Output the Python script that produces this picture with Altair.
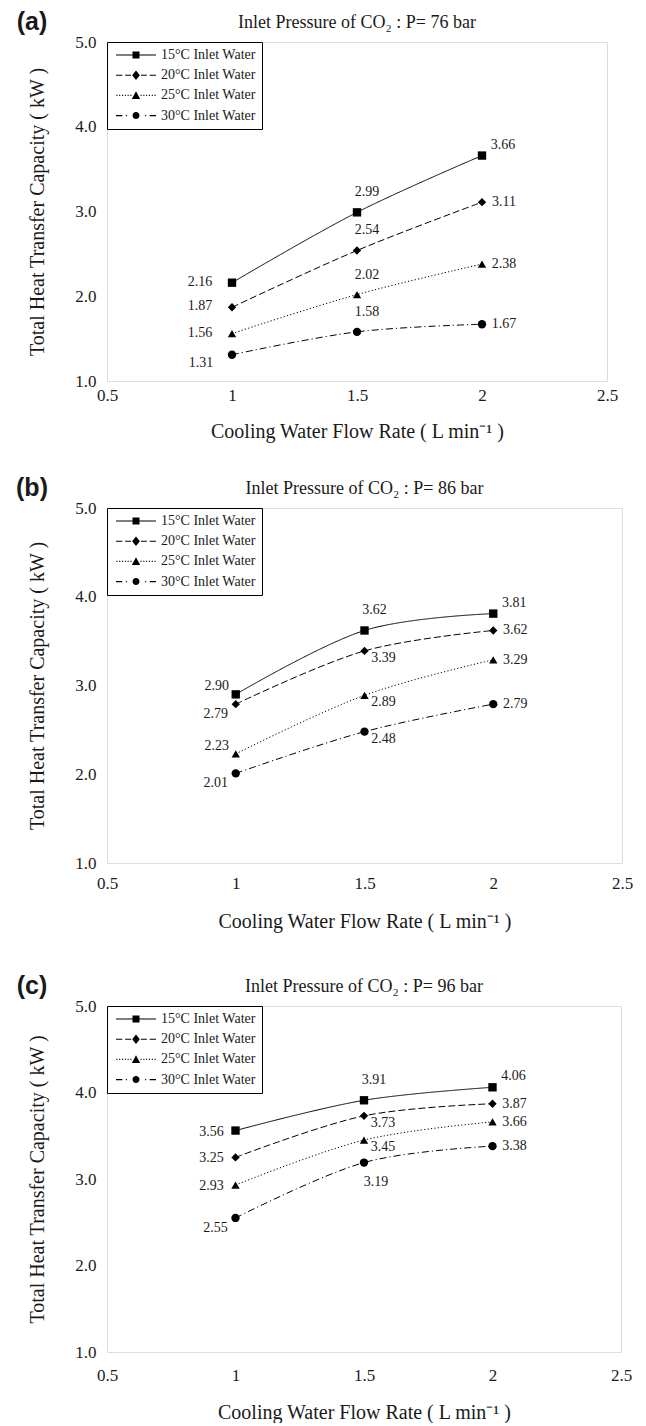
import altair as alt
import pandas as pd

# ---------------- data ----------------
flow_rate = [1.0, 1.5, 2.0]
series = ["15°C Inlet Water", "20°C Inlet Water", "25°C Inlet Water", "30°C Inlet Water"]

cap_76 = [[2.16, 2.99, 3.66], [1.87, 2.54, 3.11], [1.56, 2.02, 2.38], [1.31, 1.58, 1.67]]
cap_86 = [[2.90, 3.62, 3.81], [2.79, 3.39, 3.62], [2.23, 2.89, 3.29], [2.01, 2.48, 2.79]]
cap_96 = [[3.56, 3.91, 4.06], [3.25, 3.73, 3.87], [2.93, 3.45, 3.66], [2.55, 3.19, 3.38]]

# where each value label sits relative to its point (category codes)
place_76 = [["LL", "A", "RA"], ["LL", "A", "R"], ["LL", "A", "R"], ["LLB", "A", "R"]]
place_86 = [["LA", "A", "RA"], ["LB", "RB", "R"], ["LA", "RB", "R"], ["LB", "RB", "R"]]
place_96 = [["L", "A", "RA"], ["L", "RB", "R"], ["L", "RB", "R"], ["LB", "B", "R"]]

x_ticks = [0.5, 1, 1.5, 2, 2.5]
y_ticks = [1, 2, 3, 4, 5]

# ---------------- styles ----------------
SERIF = "Liberation Serif"
INK = "#1a1a1a"
OFFSETS = {
    "LL": (-32, -1), "LLB": (-31, 8), "L": (-24, 1), "LA": (-19, -8),
    "LB": (-20, 10), "A": (10, -20), "RA": (21, -11), "R": (22, 0),
    "RB": (19, 7), "B": (12, 19),
}
dashes = [[1, 0], [7, 3], [1.2, 2.2], [7, 3, 1.2, 3]]
shapes = ["square", "diamond", "triangle-up", "circle"]
sizes = [70, 70, 70, 55]


def seg(x0, x1, h=0.16):
    return f"M{x0},{-h}H{x1}V{h}H{x0}Z"


m_square = "M-1,-1H1V1H-1Z"
m_diamond = "M0,-1.35L1.1,0L0,1.35L-1.1,0Z"
m_tri = "M0,-1.2L1.2,1L-1.2,1Z"
m_circle = "M1,0A1,1,0,1,1,-1,0A1,1,0,1,1,1,0Z"

leg_solid = seg(-5.7, 5.7) + m_square
leg_dash = seg(-5.7, -3.9) + seg(-3.1, -1.4) + seg(1.4, 3.1) + seg(3.9, 5.7) + m_diamond
dots = [-5.6, -4.8, -4.0, -3.2, -2.4, -1.6]
leg_dot = "".join(seg(d, d + 0.3) for d in dots) + "".join(seg(-d - 0.3, -d) for d in dots) + m_tri
leg_dashdot = seg(-5.7, -3.9) + seg(-2.9, -2.6) + seg(2.6, 2.9) + seg(3.9, 5.7) + m_circle
legend_paths = [leg_solid, leg_dash, leg_dot, leg_dashdot]


def make_df(caps, places):
    rows = []
    for s, vals, pls in zip(series, caps, places):
        for x, v, p in zip(flow_rate, vals, pls):
            rows.append({"flow": x, "cap": v, "series": s, "pos": p})
    return pd.DataFrame(rows)


def make_panel(tag, pressure, caps, places, w, h, xlabpad, xtitlepad):
    df = make_df(caps, places)
    xenc = alt.X("flow:Q",
                 scale=alt.Scale(domain=[0.5, 2.5], nice=False, zero=False),
                 axis=alt.Axis(values=x_ticks, format="~g", title="Cooling Water Flow Rate ( L min⁻¹ )",
                               grid=False, ticks=False, domain=False, labelPadding=xlabpad,
                               titlePadding=xtitlepad, labelFont=SERIF, labelFontSize=17,
                               titleFont=SERIF, titleFontSize=20, titleFontWeight="normal",
                               labelColor=INK, titleColor=INK, labelFlush=False))
    yenc = alt.Y("cap:Q",
                 scale=alt.Scale(domain=[1, 5], nice=False, zero=False),
                 axis=alt.Axis(values=y_ticks, format=".1f", title="Total Heat Transfer Capacity ( kW )",
                               grid=False, ticks=False, domain=False, labelPadding=11,
                               titlePadding=27, labelFont=SERIF, labelFontSize=17,
                               titleFont=SERIF, titleFontSize=20, titleFontWeight="normal",
                               labelColor=INK, titleColor=INK, labelFlush=False))
    base = alt.Chart(df)

    lines = base.mark_line(color="black", strokeWidth=1, interpolate="cardinal").encode(
        x=xenc, y=yenc,
        detail="series:N",
        strokeDash=alt.StrokeDash("series:N", scale=alt.Scale(domain=series, range=dashes), legend=None),
    )
    pts = base.mark_point(filled=True, color="black", opacity=1).encode(
        x="flow:Q", y="cap:Q",
        shape=alt.Shape("series:N", scale=alt.Scale(domain=series, range=shapes), legend=None),
        size=alt.Size("series:N", scale=alt.Scale(domain=series, range=sizes), legend=None),
    )
    leg = base.mark_point(filled=True, color="black", opacity=0).encode(
        x="flow:Q", y="cap:Q",
        shape=alt.Shape("series:N", scale=alt.Scale(domain=series, range=legend_paths),
                        legend=alt.Legend(title=None, orient="top-left", offset=0, padding=6,
                                          strokeColor="black", fillColor="white",
                                          symbolSize=49, symbolOffset=16, labelOffset=18,
                                          rowPadding=6.2, symbolStrokeWidth=0,
                                          symbolFillColor="black", symbolOpacity=1,
                                          labelFont=SERIF, labelFontSize=14, labelColor=INK)),
    )
    texts = []
    for code, (dx, dy) in OFFSETS.items():
        if code not in df["pos"].values:
            continue
        texts.append(
            base.transform_filter(alt.datum.pos == code).mark_text(
                dx=dx, dy=dy, font=SERIF, fontSize=14, color=INK, align="center", baseline="middle"
            ).encode(x="flow:Q", y="cap:Q", text=alt.Text("cap:Q", format=".2f"))
        )
    tag_txt = alt.Chart(pd.DataFrame({"label": [tag]})).mark_text(
        font="Liberation Sans", fontSize=25, fontWeight="bold", color=INK,
        align="center", baseline="middle").encode(
        x=alt.value(-75), y=alt.value(-20), text="label:N")
    title_txt = alt.Chart(pd.DataFrame({"label": [f"Inlet Pressure of CO₂ : P= {pressure} bar"]})).mark_text(
        font=SERIF, fontSize=18, fontWeight="normal", color=INK,
        align="center", baseline="middle").encode(
        x=alt.value(w / 2), y=alt.value(-19), text="label:N")

    layer = alt.layer(lines, pts, leg, *texts, tag_txt, title_txt).resolve_scale(
        shape="independent", size="independent")
    return layer.properties(width=w, height=h)


pa = make_panel("(a)", 76, cap_76, place_76, 500, 339, 6, 18)
pb = make_panel("(b)", 86, cap_86, place_86, 515, 355, 12, 20)
pc = make_panel("(c)", 96, cap_96, place_96, 514, 346, 15, 19)

chart = alt.vconcat(alt.vconcat(pa, pb, spacing=33), pc, spacing=41,
                    padding={"left": 15, "top": 9, "right": 5, "bottom": 0}).configure_view(
    stroke="black", strokeWidth=1.2).configure(background="white")

chart.save("out.html", embed_options={"renderer": "svg", "actions": False})
